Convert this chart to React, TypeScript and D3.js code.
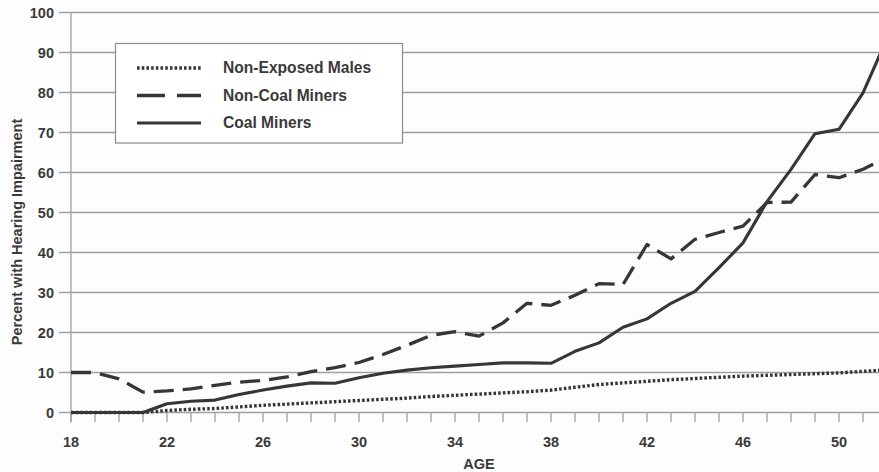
import React from "react";
import * as d3 from "d3";

const ages: number[] = [18,19,20,21,22,23,24,25,26,27,28,29,30,31,32,33,34,35,36,37,38,39,40,41,42,43,44,45,46,47,48,49,50,51,52];
const nonExposed: number[] = [0,0,0,0,0.5,0.8,1,1.4,1.8,2.1,2.4,2.7,3,3.3,3.6,4,4.3,4.6,4.9,5.2,5.6,6.3,7,7.4,7.8,8.2,8.5,8.8,9.1,9.3,9.5,9.7,9.9,10.3,10.6];
const nonCoal: number[] = [10,10,8.4,5.1,5.4,5.9,6.8,7.6,8,8.9,10.2,11.2,12.5,14.5,16.8,19.3,20.2,19.1,22.4,27.3,26.8,29.3,32.2,32,42,38.4,43.3,45,46.6,52.5,52.6,59.5,58.7,60.8,63.8];
const coal: number[] = [0,0,0,0,2.2,2.8,3.1,4.5,5.6,6.6,7.4,7.3,8.7,9.8,10.6,11.2,11.6,12,12.4,12.4,12.3,15.3,17.4,21.3,23.4,27.3,30.3,36.2,42.4,52.7,60.8,69.7,70.8,79.9,93.5];

const yTicks: number[] = [0,10,20,30,40,50,60,70,80,90,100];
const xLabelTicks: number[] = [18,22,26,30,34,38,42,46,50];

const legendItems = [
  { label: "Non-Exposed Males", key: "dot" },
  { label: "Non-Coal Miners", key: "dash" },
  { label: "Coal Miners", key: "solid" },
];

const W = 879;
const H = 472;
const FONT = "'Liberation Sans', Arial, Helvetica, sans-serif";
const INK = "#3a3a3a";
const LINE = "#363636";
const GRID = "#a0a0a0";

export default function App() {
  const x = d3.scaleLinear().domain([18, 52]).range([71, 887]);
  const y = d3.scaleLinear().domain([0, 100]).range([412.5, 12.5]);

  const mk = (vals: number[]) =>
    d3
      .line<number>()
      .x((_, i) => x(ages[i]))
      .y((d) => y(d))(vals) || "";

  const styles: Record<string, { dash?: string; width: number }> = {
    dot: { dash: "2.6,2.1", width: 3.4 },
    dash: { dash: "20,9", width: 3.3 },
    solid: { width: 3.1 },
  };

  return (
    <svg
      width={W}
      height={H}
      style={{ position: "absolute", left: 0, top: 0, background: "#fff" }}
      fontFamily={FONT}
    >
      <rect x={0} y={0} width={W} height={H} fill="#fdfdfd" />
      {yTicks.map((t) => (
        <line
          key={"g" + t}
          x1={59}
          x2={W}
          y1={y(t)}
          y2={y(t)}
          stroke={GRID}
          strokeWidth={1.3}
        />
      ))}
      <line x1={71} x2={71} y1={y(100)} y2={y(0) + 10} stroke={GRID} strokeWidth={1.3} />
      {ages.map((a) => (
        <line
          key={"xt" + a}
          x1={x(a)}
          x2={x(a)}
          y1={y(0)}
          y2={y(0) + 9.5}
          stroke={GRID}
          strokeWidth={1.3}
        />
      ))}
      {yTicks.map((t) => (
        <text
          key={"yl" + t}
          x={54}
          y={y(t) + 5}
          textAnchor="end"
          fontSize={14.5}
          fontWeight="bold"
          fill={INK}
        >
          {t}
        </text>
      ))}
      {xLabelTicks.map((t) => (
        <text
          key={"xl" + t}
          x={x(t)}
          y={447}
          textAnchor="middle"
          fontSize={14.5}
          fontWeight="bold"
          fill={INK}
        >
          {t}
        </text>
      ))}
      <text x={479} y={468.5} textAnchor="middle" fontSize={14.5} fontWeight="bold" fill={INK}>
        AGE
      </text>
      <text
        transform={`translate(22,232) rotate(-90)`}
        textAnchor="middle"
        fontSize={14.5}
        fontWeight="bold"
        fill={INK}
      >
        Percent with Hearing Impairment
      </text>

      <path d={mk(nonExposed)} fill="none" stroke={LINE} strokeWidth={styles.dot.width} strokeDasharray={styles.dot.dash} />
      <path d={mk(nonCoal)} fill="none" stroke={LINE} strokeWidth={styles.dash.width} strokeDasharray={styles.dash.dash} strokeLinejoin="round" />
      <path d={mk(coal)} fill="none" stroke={LINE} strokeWidth={styles.solid.width} strokeLinejoin="round" />

      <rect x={115.5} y={43.5} width={287} height={99.5} fill="#fff" stroke="#8a8a8a" strokeWidth={1.2} />
      {legendItems.map((it, i) => {
        const ly = 68 + i * 27.5;
        const s = styles[it.key];
        return (
          <g key={it.key}>
            <line
              x1={137}
              x2={201}
              y1={ly}
              y2={ly}
              stroke={LINE}
              strokeWidth={s.width}
              strokeDasharray={it.key === "dash" ? "28,12" : s.dash}
            />
            <text x={223} y={ly + 5} fontSize={15.6} fontWeight="bold" fill={INK}>
              {it.label}
            </text>
          </g>
        );
      })}
    </svg>
  );
}
